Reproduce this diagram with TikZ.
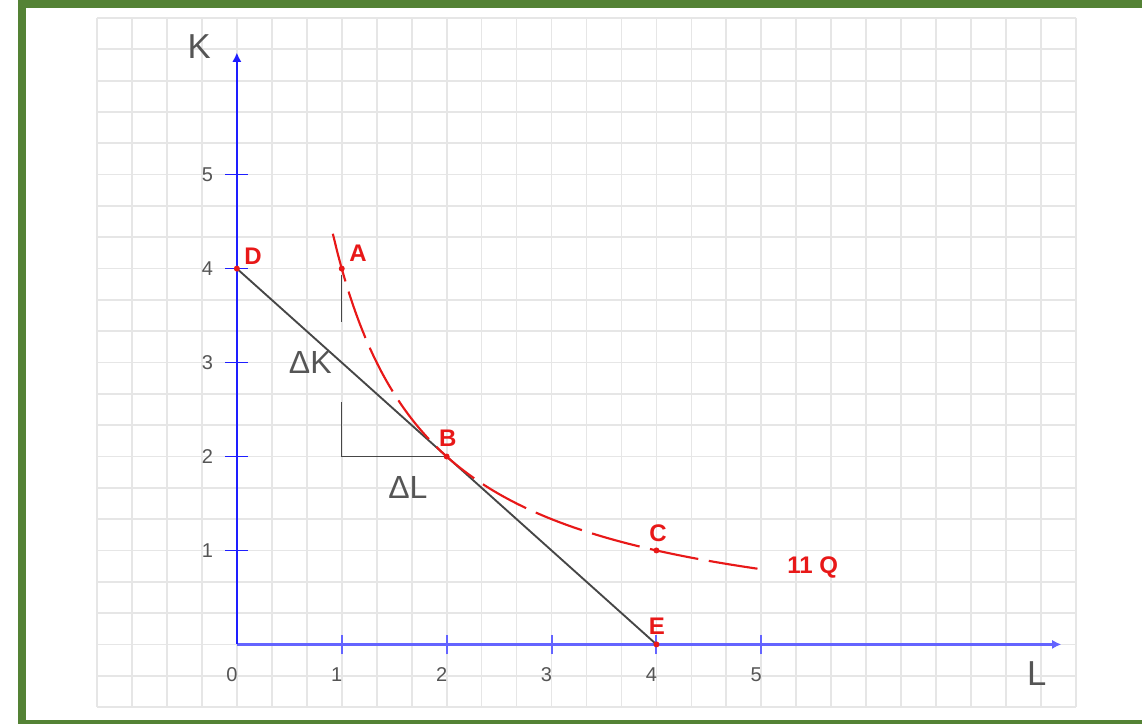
\documentclass[tikz,border=0pt]{standalone}
\usepackage{fontspec}
\setmainfont{Liberation Sans}
\usetikzlibrary{arrows.meta}
\definecolor{framec}{RGB}{84,130,53}
\definecolor{gridc}{RGB}{230,230,230}
\definecolor{yaxisc}{RGB}{30,30,255}
\definecolor{xaxisc}{RGB}{100,100,255}
\definecolor{redc}{RGB}{232,24,24}
\definecolor{txt}{RGB}{85,85,85}
\definecolor{linec}{RGB}{70,70,70}
\tikzset{
  gridline/.style={gridc, line width=1.3pt},
  tickx/.style={xaxisc, line width=1.5pt},
  ticky/.style={yaxisc, line width=1.2pt},
  numlbl/.style={txt, font=\fontsize{15}{17}\selectfont, inner sep=0pt},
  axlbl/.style={txt, font=\fontsize{26}{28}\selectfont, inner sep=0pt},
  ptlbl/.style={redc, font=\fontsize{18}{20}\selectfont\bfseries, inner sep=0pt},
  deltalbl/.style={txt, font=\fontsize{24}{26}\selectfont, inner sep=0pt},
  ptdot/.style={fill=redc, circle, inner sep=0pt, minimum size=4.5pt},
  isoq/.style={redc, line width=1.6pt, dash pattern=on 37pt off 8pt},
  budget/.style={linec, line width=1.4pt},
  tri/.style={linec, line width=1.1pt}
}
\begin{document}
\begin{tikzpicture}[x=0.75pt,y=-0.75pt]
\useasboundingbox (0,0) rectangle (1142,724);
\clip (0,0) rectangle (1142,724);
\fill[white] (0,0) rectangle (1142,724);
% grid
\foreach \i in {0,...,28} \draw[gridline] ({97+\i*34.964},18) -- ({97+\i*34.964},707);
\foreach \j in {0,...,22} \draw[gridline] (97,{18+\j*31.318}) -- (1076,{18+\j*31.318});
% frame
\draw[framec, line width=6pt] (21.5,4.3) rectangle (1170,724);
% data scope
\begin{scope}[shift={(236.86,644.4)}, x=78.67pt, y=70.46pt]
  \coordinate (O) at (0,0);
  \coordinate (Xend) at (7.86,0);
  \coordinate (Yend) at (0,6.30);
  % ticks
  \foreach \t in {1,...,5} {
    \draw[tickx] (\t,-0.105) -- (\t,0.105);
    \draw[ticky] (-0.11,\t) -- (0.11,\t);
  }
  % axes
  \draw[xaxisc, line width=2.2pt, -{Latex[length=7pt,width=7pt]}] (O) -- (Xend);
  \draw[yaxisc, line width=1.4pt, -{Latex[length=7pt,width=7pt]}] (O) -- (Yend);
  % axis numbers
  \foreach \t in {0,...,5} \node[numlbl] at ({\t-0.048},-0.325) {\t};
  \foreach \t in {1,...,5} \node[numlbl] at (-0.28,\t) {\t};
  \node[axlbl] (Klbl) at (-0.36,6.36) {K};
  \node[axlbl] (Llbl) at (7.626,-0.31) {L};
  % points
  \coordinate (D) at (0,4);
  \coordinate (A) at (1,4);
  \coordinate (B) at (2,2);
  \coordinate (C) at (4,1);
  \coordinate (E) at (4,0);
  % triangle
  \coordinate (T1) at (1,3.93);
  \coordinate (T2) at (1,3.43);
  \coordinate (T3) at (1,2.58);
  \coordinate (R) at (1,2);
  \draw[tri] (T1) -- (T2);
  \draw[tri] (T3) -- (R) -- (B);
  % budget line
  \draw[budget] (D) -- (E);
  % isoquant
  \draw[isoq] plot[domain=0.915:5, samples=80, smooth] (\x,{4/\x});
  % dots
  \foreach \p in {D,A,B,C,E} \node[ptdot] at (\p) {};
  % labels
  \node[ptlbl] (Dl) at (0.155,4.13) {D};
  \node[ptlbl] (Al) at (1.155,4.16) {A};
  \node[ptlbl] (Bl) at (2.01,2.19) {B};
  \node[ptlbl] (Cl) at (4.015,1.18) {C};
  \node[ptlbl] (El) at (4.005,0.19) {E};
  \node[ptlbl] (Ql) at (5.49,0.82) {11 Q};
  \node[deltalbl] (dK) at (0.70,3.00) {ΔK};
  \node[deltalbl] (dL) at (1.63,1.67) {ΔL};
\end{scope}
\end{tikzpicture}
\end{document}
